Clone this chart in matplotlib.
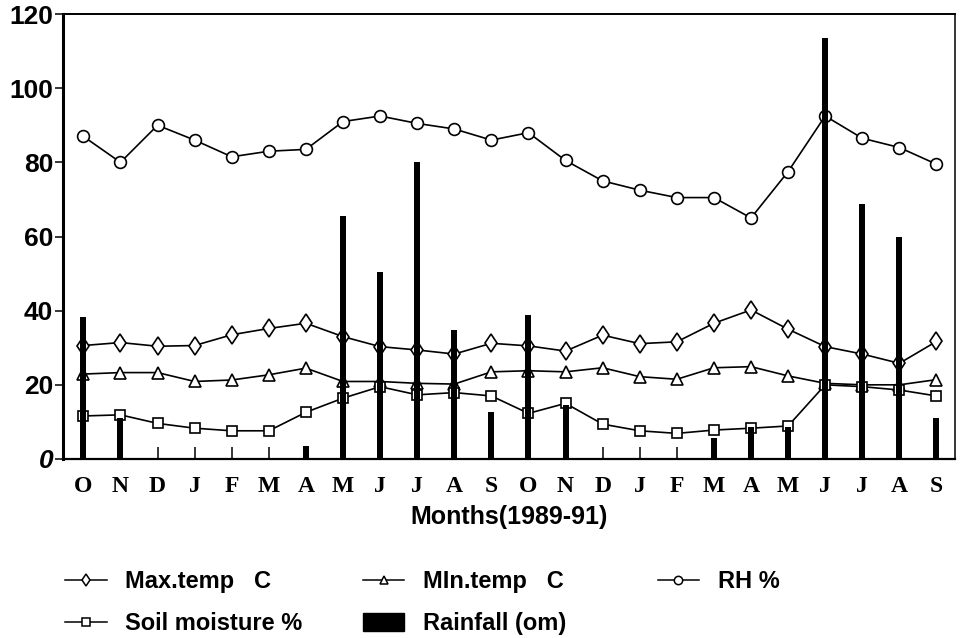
"""Weather and soil moisture, Oct 1989 - Sep 1991, redrawn as out.png."""

import matplotlib

matplotlib.use("Agg")
import matplotlib.pyplot as plt
from matplotlib.lines import Line2D
from matplotlib.patches import Patch

months = ["O", "N", "D", "J", "F", "M", "A", "M", "J", "J", "A", "S"] * 2
y_ticks = [0, 20, 40, 60, 80, 100, 120]

rh = [87, 80, 90, 86, 81.5, 83, 83.5, 91, 92.5, 90.5, 89, 86,
      88, 80.5, 75, 72.5, 70.5, 70.5, 65, 77.5, 92.5, 86.5, 84, 79.5]
max_temp = [30.6, 31.4, 30.4, 30.6, 33.5, 35.2, 36.6, 33.0, 30.3, 29.4, 28.3, 31.2,
            30.5, 29.1, 33.4, 31.1, 31.6, 36.6, 40.2, 35.0, 30.3, 28.3, 25.8, 31.7]
min_temp = [22.9, 23.3, 23.3, 20.9, 21.3, 22.7, 24.5, 20.9, 20.9, 20.4, 20.2, 23.5,
            23.8, 23.5, 24.6, 22.2, 21.5, 24.6, 24.9, 22.4, 20.4, 20.0, 20.0, 21.4]
soil = [11.6, 11.9, 9.6, 8.3, 7.6, 7.6, 12.6, 16.4, 19.5, 17.3, 17.9, 17.0,
        12.3, 15.0, 9.4, 7.6, 6.9, 7.8, 8.3, 8.9, 20.0, 19.5, 18.6, 17.0]
rain = [38.4, 11.0, 0, 0, 0, 0, 3.5, 65.5, 50.5, 80.0, 34.8, 12.8,
        38.8, 14.6, 0, 0, 0, 5.6, 8.6, 8.6, 113.6, 68.8, 59.8, 11.0]

SANS = "Liberation Sans"
SERIF = "Liberation Serif"


def main():
    x = list(range(len(months)))

    fig = plt.figure(figsize=(9.6, 6.38), dpi=100)
    ax = fig.add_axes([0.0656, 0.2806, 0.9292, 0.6974])

    line_kw = dict(color="black", lw=1.2, mfc="white", mec="black", mew=1.2, zorder=2)
    ax.plot(x, rh, marker="o", ms=8.5, **line_kw)
    ax.plot(x, max_temp, marker="d", ms=9.5, **line_kw)
    ax.plot(x, min_temp, marker="^", ms=8.5, **line_kw)
    ax.plot(x, soil, marker="s", ms=7.5, **line_kw)
    ax.bar(x, rain, width=0.16, color="black", zorder=3)

    ax.set_xlim(-0.55, 23.5)
    ax.set_ylim(0, 120)

    ax.set_xticks(x)
    ax.set_xticklabels(months, family=SERIF, fontweight="bold", fontsize=17)
    ax.tick_params(axis="x", direction="in", length=8.5, width=1.1, pad=12)
    ax.set_yticks(y_ticks)
    ax.set_yticklabels([str(v) for v in y_ticks], family=SANS, fontweight="bold",
                       fontsize=19)
    ax.get_yticklabels()[0].set_fontstyle("italic")
    ax.tick_params(axis="y", direction="out", length=6, width=1.1, pad=1)

    ax.spines["left"].set_linewidth(2.2)
    ax.spines["bottom"].set_linewidth(1.6)
    ax.spines["top"].set_linewidth(1.4)
    ax.spines["right"].set_linewidth(1.1)

    ax.set_xlabel("Months(1989-91)", family=SANS, fontweight="bold", fontsize=18,
                  labelpad=6)

    # legend in three loose columns below the axes
    def handle(marker):
        return Line2D([], [], color="black", lw=1.1, marker=marker, ms=6,
                      mfc="white", mec="black", mew=1.1)

    columns = [
        (0.068, [handle("d"), handle("s")], ["Max.temp   C", "Soil moisture %"]),
        (0.378, [handle("^"), Patch(color="black")], ["MIn.temp   C", "Rainfall (om)"]),
        (0.685, [handle("o")], ["RH %"]),
    ]
    for left, handles, labels in columns:
        fig.legend(handles, labels, loc="upper left", bbox_to_anchor=(left, 0.106),
                   frameon=False, borderpad=0, borderaxespad=0, handlelength=1.75,
                   handleheight=0.8, handletextpad=0.8, labelspacing=0.8,
                   numpoints=1, prop=dict(family=SANS, weight="bold", size=17))

    fig.savefig("out.png", dpi=100)


if __name__ == "__main__":
    main()
